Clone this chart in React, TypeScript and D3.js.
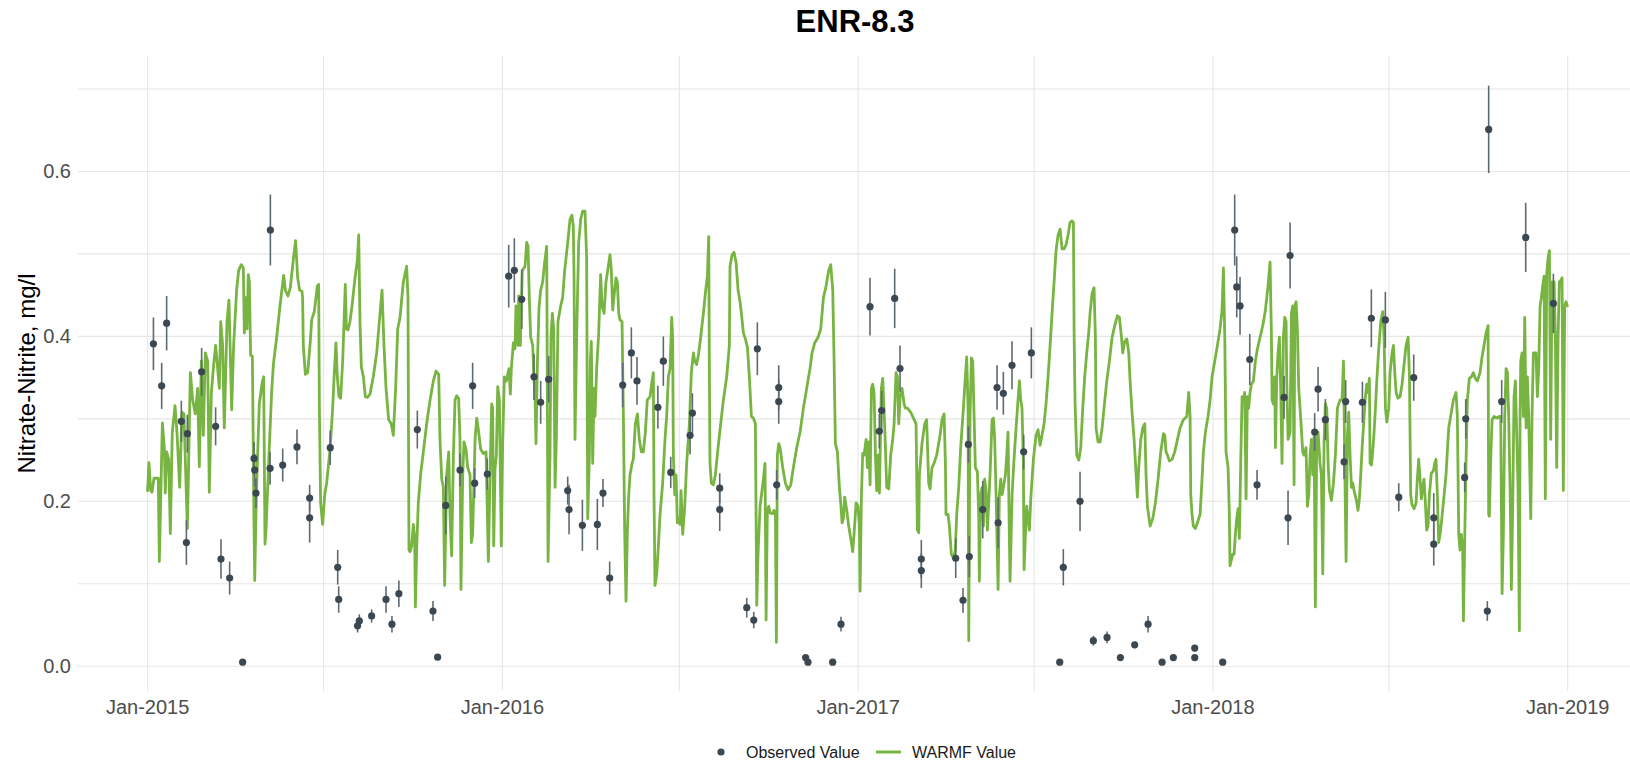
import React from 'react';
import * as d3 from 'd3';

// ---- text ----
const chartTitle = 'ENR-8.3';
const yAxisTitle = 'Nitrate-Nitrite, mg/l';
const xTickLabels = ['Jan-2015', 'Jan-2016', 'Jan-2017', 'Jan-2018', 'Jan-2019'];
const xTickYears = [2015, 2016, 2017, 2018, 2019];
const yTickValues = [0, 0.2, 0.4, 0.6];
const yGridValues = [0, 0.1, 0.2, 0.3, 0.4, 0.5, 0.6, 0.7];
const legendLabels = ['Observed Value', 'WARMF Value'];

// ---- data: day offset from 2015-01-01 ----
// observed: [day, value (mg/l), error half-width]
const observed: [number, number, number][] = [
  [6, .391, .032], [14.5, .340, .028], [19.6, .416, .033], [34.7, .297, .025], [39.9, .150, .027], [40.9, .282, .023],
  [55.6, .357, .029], [70, .291, .023], [75.5, .130, .024], [84.4, .107, .020], [97.8, .005, 0], [109.5, .252, .020],
  [110.2, .238, .020], [111.5, .210, .018], [126, .240, .020], [126.3, .529, .043], [139, .244, .020], [153.7, .266, .021],
  [166.7, .204, .016], [166.7, .180, .030], [187.9, .265, .021], [195.6, .120, .021], [196.6, .081, .016], [216, .049, .008],
  [217.8, .055, .008], [230.5, .061, .008], [245.3, .081, .016], [251.4, .051, .010], [258.5, .088, .016],
  [277.5, .287, .023], [293.6, .067, .012], [298.4, .011, 0], [306.7, .195, .035], [321.4, .238, .020], [334.4, .340, .028],
  [336.5, .222, .018], [349.5, .233, .019], [371.5, .473, .038], [377.3, .480, .039], [384.9, .445, .036], [397.5, .351, .028],
  [404.4, .320, .026], [412.6, .348, .028], [432.2, .213, .017], [433.6, .190, .030], [447.3, .171, .031], [462.7, .172, .031],
  [468.5, .210, .017], [475.4, .107, .020], [488.8, .341, .027], [497.7, .380, .031], [503.5, .346, .029], [525, .314, .026],
  [530.6, .370, .030], [538.2, .235, .019], [558.1, .280, .023], [560.5, .307, .024], [588.6, .216, .018], [588.6, .190, .026],
  [616.4, .071, .012], [623.6, .056, .010], [627.3, .385, .032], [647.2, .220, .018], [649.3, .338, .027], [649.3, .321, .027],
  [677, .0105, 0], [679.4, .005, 0], [704.8, .005, 0], [713.4, .051, .009], [743.2, .436, .035], [752.8, .285, .021],
  [755.2, .310, .024], [768.6, .446, .036], [774.1, .361, .028],
  [796, .130, .023], [796, .116, .021], [831.4, .131, .024], [838.9, .080, .015], [844.4, .269, .022], [845.4, .133, .025],
  [859.2, .190, .035], [873.9, .338, .027], [875, .174, .031], [880.4, .331, .026], [889.3, .365, .029], [901.3, .260, .021],
  [909.2, .380, .031], [938.4, .005, 0], [942.1, .120, .022], [959.3, .200, .036], [973, .031, .006], [987.1, .035, .007],
  [1000.8, .0105, 0], [1015.5, .026, .004], [1029.3, .051, .010], [1043.7, .005, 0], [1055.3, .0105, 0],
  [1077.3, .022, .004], [1077.3, .0105, 0], [1106.1, .005, 0], [1118.4, .529, .043], [1120.5, .460, .037], [1123.9, .437, .035],
  [1133.9, .372, .031], [1141.4, .220, .018], [1169.2, .326, .026], [1173.3, .180, .033], [1175.4, .498, .040], [1200.7, .284, .023],
  [1204.2, .336, .027], [1211.7, .299, .025], [1230.9, .248, .021], [1232.6, .321, .026], [1249.8, .320, .025], [1259, .422, .035],
  [1273.4, .420, .034], [1287.2, .205, .017], [1302.6, .350, .028], [1323.2, .180, .030], [1323.2, .148, .026],
  [1355, .229, .018], [1356.1, .300, .024], [1378.3, .067, .012], [1379.7, .651, .053], [1393.1, .321, .026], [1417.8, .520, .042],
  [1446.3, .440, .036],
];

// WARMF simulated: [day, value (mg/l)]
const warmf: [number, number][] = [
  [0, .213], [1.4, .247], [3.2, .213], [4.5, .211], [6.6, .228], [11, .228], [12.1, .127], [15.2, .295], [17.2, .265], [18.2, .210],
  [19.6, .260], [21.7, .251], [23.4, .161], [25.4, .284], [28.2, .316], [30.2, .284], [33, .217], [35.4, .308], [37.4, .306], [40.9, .167],
  [44, .356], [46.4, .323], [49.1, .306], [51.5, .337], [53.2, .242], [55.3, .370], [57.3, .280], [59.4, .380], [61.8, .370], [63.5, .211],
  [65.6, .332], [68, .366], [70, .389], [71.7, .366], [73.8, .337], [75.2, .418], [77.2, .389], [78.9, .289], [81.7, .418], [83.7, .444],
  [86.5, .311], [88.5, .389], [91.6, .456], [93.7, .480], [96.4, .487], [98.5, .483], [99.5, .404], [101.2, .447], [102.3, .409], [103.6, .475],
  [104.7, .466], [106, .377], [107.8, .376], [109.5, .170], [110.2, .104], [111.9, .208], [114.9, .318], [118, .345], [119.4, .351], [120.8, .148],
  [121.8, .165], [125.2, .265], [127.6, .332], [129.4, .366], [132.8, .399], [136.2, .437], [140, .474], [141.7, .456], [144.4, .449], [146.8, .459],
  [150.3, .497], [152.3, .516], [154.4, .471], [156.4, .456], [158.8, .455], [159.5, .447], [160.2, .389], [162.3, .354], [164.7, .356], [167.4, .394],
  [168.8, .420], [171.5, .430], [174.6, .461], [176, .463], [176.7, .318], [178, .198], [180.1, .172], [182.2, .208], [184.2, .222], [187.7, .263],
  [190.4, .313], [192.1, .356], [193.8, .392], [195.2, .351], [196.9, .327], [198.6, .325], [200.7, .370], [201.7, .404], [203.4, .463], [204.5, .409],
  [206.2, .408], [208.2, .418], [210.3, .437], [213.4, .471], [215.8, .492], [217.2, .523], [218.5, .418], [219.9, .363], [222, .351], [224, .327],
  [226.1, .326], [228.8, .330], [232.2, .351], [235.7, .380], [238.4, .418], [241.2, .456], [243.2, .389], [245.3, .337], [248, .299], [250.7, .294],
  [252.8, .280], [255.2, .337], [257.3, .409],
  [259.7, .423], [263.1, .466], [266.5, .485], [267.9, .447], [268.9, .141], [270, .139], [271.7, .146], [273.4, .172], [274.8, .155], [275.5, .072],
  [276.8, .141], [278.5, .198], [281, .234], [283.7, .260], [287.1, .294], [290.6, .323], [294, .346], [296.7, .358], [299.5, .354], [300.8, .275],
  [302.6, .227], [304.3, .217], [305.6, .098], [307.7, .232], [309.8, .260], [311.1, .184], [312.8, .134], [314.6, .256], [316.3, .323], [318, .328],
  [320, .325], [321.4, .275], [322.4, .093], [324.2, .232], [325.5, .272], [327.6, .263], [329.3, .241], [331.7, .232], [333.1, .150], [334.4, .160],
  [336.9, .275], [338.6, .301], [340.3, .287], [342.7, .263], [345.4, .258], [348.2, .260], [350.6, .127], [352.3, .232], [354, .318], [355, .313],
  [356.1, .146], [357.4, .239], [358.8, .256], [360.2, .339], [361.9, .323], [363.9, .146], [365.3, .270], [367, .351], [369.1, .346], [370.5, .354],
  [371.8, .361], [373.2, .330], [374.2, .361], [376.3, .392], [378, .385], [379, .437], [381.1, .389], [381.8, .449], [383.5, .389], [385.5, .480],
  [388.3, .485], [390, .514], [391.4, .509], [392.7, .447], [394.1, .399], [396.2, .389], [397.2, .356], [398.6, .327], [399.6, .270], [401, .366],
  [402.7, .435], [404.4, .456], [406.5, .466], [408.5, .490], [410.6, .509], [412, .127], [414, .256], [415, .399], [416.4, .428], [417.8, .409],
  [419.2, .217], [420.5, .275], [422.2, .418], [425, .437], [427, .447], [429.1, .480], [431.8, .509], [434.6, .542], [436.6, .547], [438, .533],
  [438.7, .475], [439.7, .275], [441.4, .399], [443.5, .514], [445.6, .542], [447.6, .552], [450, .552], [451.7, .495], [452.8, .179], [454.5, .256],
  [455.5, .370], [456.5, .394], [457.9, .246], [459.3, .337], [460.3, .303], [462, .361], [464.1, .404], [466.1, .475], [467.5, .437], [469.6, .428],
  [471.6, .466], [474, .485], [475.7, .499], [477.1, .480], [478.5, .432], [480.5, .456], [481.9, .471], [483.3, .466], [484.7, .428], [486, .420],
  [488.1, .418], [489.5, .303], [490.8, .165], [492.2, .079], [493.6, .165], [495, .208], [496.3, .232], [498.4, .246], [499.7, .251], [501.8, .294],
  [503.9, .306], [505.9, .275], [508, .260], [510, .260], [512.1, .284], [514.1, .323], [516.9, .327], [518.6, .342], [520.3, .356],
  [521, .208], [522, .098], [523.8, .112], [525.5, .146], [527.2, .184], [529.9, .222], [532.3, .275], [534, .303], [535.8, .351], [537.5, .361],
  [539.2, .423], [540.2, .399], [540.9, .256], [542.3, .208], [543.7, .232], [545, .174], [546.4, .179], [547.8, .172], [548.8, .213], [550.5, .160],
  [552.6, .194], [554.6, .246], [557.4, .294], [559.4, .356], [561.5, .380], [562.9, .370], [564.9, .366], [567, .380], [569, .399], [571.8, .428],
  [573.8, .452], [575.9, .473], [577.3, .521], [577.9, .370], [578.6, .246], [580, .222], [582.1, .220], [584.1, .232], [586.9, .265], [589.6, .294],
  [592.4, .323], [595.8, .351], [598.5, .389], [599.2, .485], [601.3, .499], [603.3, .502], [605.4, .490], [607.5, .456], [609.5, .442], [610.9, .428],
  [613, .404], [615, .397], [617.1, .387], [619.1, .351], [621.2, .303], [623.2, .301], [625.3, .294], [626.7, .074], [628, .136], [630.1, .194],
  [632.1, .213], [633.5, .227], [635.2, .246], [636.3, .056], [637.6, .189], [639, .194], [640.4, .186], [643.1, .185], [644.5, .189], [645.9, .184],
  [646.9, .029], [647.9, .256], [649.3, .270], [650.7, .265], [653.4, .241], [656.2, .222], [658.9, .214], [661.7, .220], [664.4, .241], [667.8, .265],
  [671.3, .284], [674.7, .313], [678.1, .337], [681.5, .361], [683.6, .380], [686.3, .392], [689.8, .399], [692.5, .409], [695.3, .447], [698, .461],
  [700.7, .480], [702.8, .487], [704.9, .456], [706.2, .375], [707.6, .270], [709.7, .260], [711.7, .217], [713.1, .198], [714.5, .174], [715.8, .179],
  [717.2, .205], [719.3, .189], [721.3, .170], [723.4, .155], [725.4, .139], [726.8, .160], [728.9, .198], [730.9, .194], [732.3, .170], [733, .091],
  [734.4, .208], [735.7, .258], [737.1, .256], [739.2, .275], [740.5, .241], [741.9, .272], [743.3, .220], [744.7, .337], [746, .342], [747.4, .332],
  [748.8, .256], [750.1, .213], [751.5, .256], [752.9, .210], [754.9, .337], [756.3, .349], [758.4, .289], [760.4, .217], [762.5, .215], [764.5, .256],
  [766.6, .275], [768, .294], [770, .356], [771.4, .351], [772.8, .294], [774.2, .327], [776.2, .337], [778.3, .318], [779.6, .313], [781.7, .313],
  [785.1, .308], [788.6, .299], [790.6, .294], [792, .165], [793.4, .162],
  [794, .232], [796.7, .270], [799.5, .294], [801.5, .299], [803.6, .222], [805, .215], [807, .241], [809.1, .246], [811.8, .256], [815.3, .280],
  [817.3, .299], [819.4, .306], [820.8, .246], [821.4, .184], [823.5, .184], [824.9, .170], [826.9, .136], [829, .131], [831, .141], [832.4, .184],
  [834.5, .217], [836.5, .265], [839.3, .313], [841.3, .351], [842.7, .375], [844.1, .313], [844.8, .031], [846.1, .303], [847.5, .374], [848.9, .370],
  [850.3, .303], [851.6, .241], [853.7, .236], [855.1, .179], [855.7, .103], [857.1, .208], [858.5, .217], [859.9, .170], [861.2, .227], [862.6, .213],
  [864, .165], [866.7, .232], [868.8, .299], [870.2, .301], [871.5, .275], [872.9, .208], [875, .093], [876.3, .208], [877.7, .227], [879.1, .208],
  [881.1, .222], [882.5, .232], [883.9, .256], [885.2, .284], [886.6, .155], [887.3, .103], [889.4, .208], [891.4, .251], [893.5, .289], [895.5, .323],
  [896.9, .346], [898.3, .323], [899.6, .313], [901, .246], [901.7, .117], [903.1, .160], [904.4, .194], [905.8, .179], [907.2, .165], [908.6, .203],
  [911.3, .251], [914.1, .280], [916.1, .287], [918.2, .268], [920.2, .280], [922.3, .294], [924.3, .318], [926.4, .351], [928.5, .389], [930.5, .428],
  [932.6, .466], [934.6, .504], [936.7, .523], [938.8, .530], [940.8, .506], [942.9, .506], [944.9, .511], [947, .523], [949, .538], [951.1, .540],
  [952.5, .538], [953.2, .404], [954.2, .318], [955.9, .256], [958, .250], [960, .265], [962.1, .313], [964.1, .351], [966.2, .380], [968.2, .404],
  [969.6, .428], [971.7, .452], [973.7, .459], [975.1, .399], [975.8, .289], [977.9, .272], [979.9, .272], [982, .289], [984, .313], [986.8, .346],
  [989.5, .370], [992.3, .399], [995, .413], [997.7, .425], [999.8, .423], [1001.9, .399], [1003.2, .380], [1005.3, .394], [1007.4, .397], [1009.4, .380],
  [1010.8, .346], [1012.8, .308], [1014.9, .275], [1017, .232], [1018.3, .205], [1019.7, .241], [1021.8, .275], [1023.8, .289], [1025.9, .294], [1027.2, .232],
  [1028.6, .194], [1031.4, .170], [1034.1, .179], [1036.8, .198], [1039.6, .227], [1042.3, .260], [1045.1, .282], [1046.5, .280], [1047.8, .260], [1049.2, .256],
  [1051.3, .249], [1054, .251], [1056.7, .260], [1059.5, .275],
  [1062.2, .289], [1065.6, .299], [1069.1, .303], [1071.1, .332], [1072.5, .303], [1073.2, .208], [1074.5, .184], [1075.9, .170], [1078, .167], [1080, .174],
  [1082.8, .184], [1084.8, .227], [1086.2, .260], [1088.3, .284], [1091, .303], [1093.1, .323], [1095.1, .351], [1097.9, .370], [1100.6, .389], [1103.3, .409],
  [1105.4, .432], [1106.8, .483], [1108.2, .399], [1109.5, .260], [1111.6, .241], [1112.9, .184], [1113.6, .122], [1115, .129], [1116.4, .136], [1117.8, .136],
  [1119.1, .160], [1120.5, .179], [1121.9, .191], [1123.2, .155], [1124.6, .246], [1126, .327], [1127.4, .323], [1128.7, .332], [1130.1, .203], [1131.5, .327],
  [1132.8, .313], [1134.2, .332], [1135.6, .342], [1137.7, .346], [1139.7, .370], [1141.8, .385], [1144.5, .399], [1147.3, .413], [1150, .432], [1152.7, .461],
  [1154.8, .490], [1156.2, .399], [1156.9, .323], [1158.2, .318], [1159.6, .351], [1160.3, .265], [1161.7, .351], [1163, .380], [1164.4, .399], [1165.8, .332],
  [1167.1, .246], [1168.5, .399], [1169.9, .423], [1171.3, .418], [1171.9, .351], [1173.3, .275], [1175.4, .284], [1176.8, .428], [1178.1, .437], [1179.5, .220],
  [1180.2, .437], [1181.6, .442], [1182.9, .409], [1184.3, .337], [1186.4, .299], [1188.4, .260], [1189.8, .256], [1191.8, .265], [1193.2, .194], [1194.6, .208],
  [1196, .256], [1197.3, .275], [1198.7, .232], [1200.1, .280], [1201.4, .072], [1202.8, .275], [1204.2, .284], [1206.2, .246], [1207.6, .232], [1209, .112],
  [1210.4, .275], [1211.7, .318], [1213.1, .313], [1214.5, .246], [1215.9, .213], [1217.9, .201], [1220, .222], [1222, .256], [1224.1, .313], [1226.8, .323],
  [1228.9, .323], [1230.3, .370], [1231.6, .251], [1233, .127], [1234.4, .280], [1235.7, .308], [1237.1, .256], [1238.5, .217], [1239.9, .222], [1241.2, .213],
  [1243.3, .203], [1245.3, .189], [1246.7, .203], [1248.1, .232], [1249.5, .265], [1250.8, .289], [1252.9, .327], [1254.3, .342], [1255.6, .332], [1257, .349],
  [1257.7, .246], [1259.1, .244], [1260.4, .260], [1261.8, .284], [1263.2, .313], [1264.6, .346], [1266.6, .385], [1268.7, .418], [1270.7, .430], [1272.1, .399],
  [1273.5, .313], [1274.9, .296], [1276.9, .313], [1278.3, .356], [1280.3, .380], [1281.7, .389], [1283.1, .356], [1284.5, .332], [1286.5, .325], [1288.6, .327],
  [1290.6, .342], [1292.7, .366], [1294.7, .389], [1296.8, .399], [1298.2, .351],
  [1299.5, .208], [1300.8, .196], [1302.9, .191], [1305, .198], [1306.3, .227], [1307.7, .251], [1309.1, .227], [1310.5, .203], [1311.8, .217], [1313.2, .227],
  [1314.6, .198], [1315.9, .165], [1317.3, .170], [1318.7, .208], [1320.7, .234], [1322.8, .237], [1324.2, .246], [1325.5, .251], [1326.9, .208], [1328.3, .150],
  [1330.3, .165], [1333.1, .198], [1335.8, .232], [1338.6, .289], [1340.6, .303], [1343.4, .323], [1346.1, .332], [1347.5, .303], [1348.9, .160], [1350.2, .141],
  [1351.6, .160], [1353, .141], [1353.7, .055], [1355, .150], [1356.4, .246], [1357.8, .323], [1359.8, .349], [1361.9, .351], [1364, .356], [1366, .349],
  [1368.1, .346], [1370.8, .356], [1372.9, .375], [1374.9, .389], [1377, .404], [1379.1, .413], [1379.7, .184], [1380.4, .182], [1381.8, .251], [1383.2, .299],
  [1385.2, .303], [1388, .301], [1390.7, .303], [1392.1, .303], [1393.5, .088], [1394.8, .160], [1396.2, .303], [1397.6, .361], [1399, .356], [1400.3, .303],
  [1401.7, .217], [1403.1, .093], [1404.4, .194], [1405.8, .327], [1407.2, .346], [1408.6, .280], [1409.9, .217], [1411.3, .043], [1412, .303], [1412.7, .370],
  [1414, .380], [1415.4, .303], [1416.8, .423], [1418.2, .289], [1419.5, .351], [1420.9, .303], [1423, .179], [1424.3, .303], [1425.7, .380], [1427.1, .380],
  [1428.4, .380], [1429.8, .327], [1431.2, .361], [1432.6, .437], [1433.9, .447], [1435.3, .461], [1436.7, .473], [1438, .203], [1439.4, .475], [1440.8, .495],
  [1442.2, .504], [1443.5, .275], [1444.9, .466], [1446.3, .437], [1447, .466], [1448.3, .399], [1449.7, .241], [1451.1, .399], [1452.4, .466], [1453.8, .468],
  [1455.2, .471], [1456.5, .213], [1457.9, .437], [1459.3, .442], [1460.6, .437],
];

// ---- layout ----
const W = 1630;
const H = 762;
const PANEL = { left: 78, right: 1630, top: 56, bottom: 691 };
const FONT = '"Liberation Sans", Arial, Helvetica, sans-serif';
const GREEN = '#78b442';
const POINT = '#3c4851';
const ERRBAR = '#5e6a72';
const GRID = '#e6e6e6';

const BASE = Date.UTC(2015, 0, 1);
const dayToDate = (d: number) => new Date(BASE + d * 86400000);

export default function App() {
  const x = d3.scaleUtc().domain([dayToDate(-71.6), dayToDate(1525.1)]).range([PANEL.left, PANEL.right]);
  const y = d3.scaleLinear().domain([-0.03, 0.74]).range([PANEL.bottom, PANEL.top]);

  const linePath = d3.line<[number, number]>()
    .x((d) => x(dayToDate(d[0])))
    .y((d) => y(d[1]))(warmf) || '';

  const gridDates = d3.utcMonth.every(6)!.range(new Date(Date.UTC(2015, 0, 1)), new Date(Date.UTC(2019, 1, 1)));

  return (
    <svg width={W} height={H} style={{ position: 'absolute', left: 0, top: 0, display: 'block', background: '#fff' }}
      fontFamily={FONT}>
      <defs>
        <clipPath id="panel">
          <rect x={PANEL.left} y={PANEL.top} width={PANEL.right - PANEL.left} height={PANEL.bottom - PANEL.top} />
        </clipPath>
      </defs>
      {/* grid */}
      {yGridValues.map((v) => (
        <line key={'gy' + v} x1={PANEL.left} x2={PANEL.right} y1={y(v)} y2={y(v)} stroke={GRID} strokeWidth={1.1} />
      ))}
      {gridDates.map((d) => (
        <line key={'gx' + d.getTime()} x1={x(d)} x2={x(d)} y1={PANEL.top} y2={PANEL.bottom} stroke={GRID} strokeWidth={1.1} />
      ))}
      {/* title */}
      <text x={855} y={32} textAnchor="middle" fontSize={31} fontWeight="bold" fill="#000">{chartTitle}</text>
      {/* y ticks */}
      {yTickValues.map((v) => (
        <text key={'yt' + v} x={71} y={y(v) + 7} textAnchor="end" fontSize={20} fill="#4d4d4d">{v.toFixed(1)}</text>
      ))}
      {/* x ticks */}
      {xTickYears.map((yr, i) => (
        <text key={'xt' + yr} x={x(new Date(Date.UTC(yr, 0, 1)))} y={714} textAnchor="middle" fontSize={20} fill="#4d4d4d">
          {xTickLabels[i]}
        </text>
      ))}
      {/* y axis title */}
      <text transform={`translate(35, ${(PANEL.top + PANEL.bottom) / 2}) rotate(-90)`} textAnchor="middle" fontSize={24} fill="#000">
        {yAxisTitle}
      </text>
      <g clipPath="url(#panel)">
        <path d={linePath} fill="none" stroke={GREEN} strokeWidth={2.8} strokeLinejoin="round" strokeLinecap="round" />
        {observed.map(([d, v, e], i) => (
          e > 0 ? (
            <line key={'e' + i} x1={x(dayToDate(d))} x2={x(dayToDate(d))} y1={y(v - e)} y2={y(v + e)} stroke={ERRBAR} strokeWidth={1.6} />
          ) : null
        ))}
        {observed.map(([d, v], i) => (
          <circle key={'p' + i} cx={x(dayToDate(d))} cy={y(v)} r={3.6} fill={POINT} />
        ))}
      </g>
      {/* legend */}
      <g>
        <circle cx={721} cy={752} r={3.6} fill={POINT} />
        <text x={746} y={758} fontSize={16} fill="#1a1a1a">{legendLabels[0]}</text>
        <line x1={876} x2={901} y1={752} y2={752} stroke={GREEN} strokeWidth={3} />
        <text x={912} y={758} fontSize={16} fill="#1a1a1a">{legendLabels[1]}</text>
      </g>
    </svg>
  );
}
